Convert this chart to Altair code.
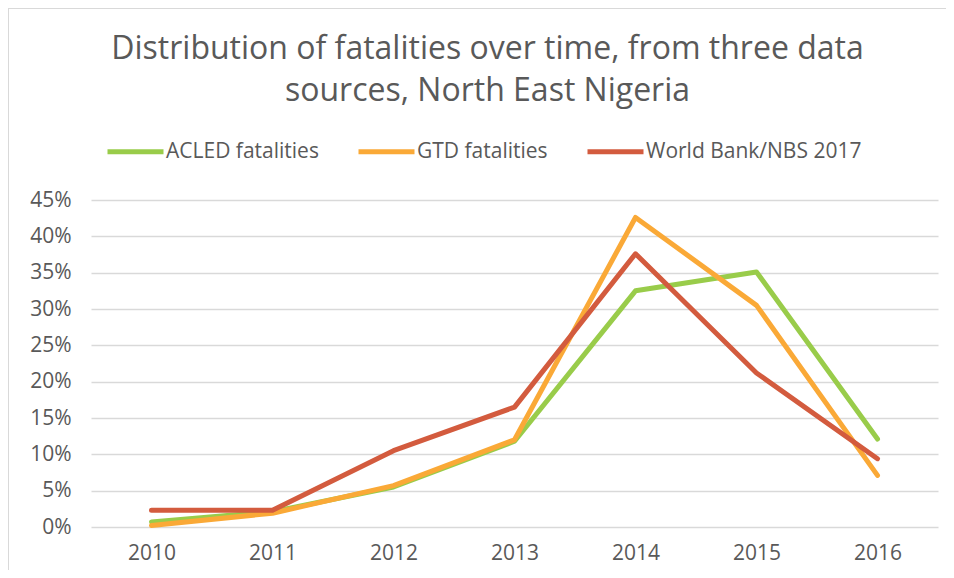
import altair as alt
import pandas as pd

years = ["2010", "2011", "2012", "2013", "2014", "2015", "2016"]
acled = [0.7, 2.1, 5.5, 11.8, 32.5, 35.1, 12.1]
gtd = [0.2, 1.9, 5.7, 12.0, 42.6, 30.5, 7.1]
world_bank = [2.3, 2.3, 10.5, 16.5, 37.6, 21.2, 9.4]
series_names = ["ACLED fatalities", "GTD fatalities", "World Bank/NBS 2017"]
series_colors = ["#99CC4A", "#FAA937", "#D35B3E"]
y_ticks = [0, 0.05, 0.10, 0.15, 0.20, 0.25, 0.30, 0.35, 0.40, 0.45]
title_lines = ["Distribution of fatalities over time, from three data",
               "sources, North East Nigeria"]

rows = []
for name, vals in zip(series_names, [acled, gtd, world_bank]):
    for yr, v in zip(years, vals):
        rows.append({"year": yr, "series": name, "share": v / 100.0})
df = pd.DataFrame(rows)

FONT = "Open Sans"
TXT = "#595959"
W, H = 847, 327

lines = alt.Chart(df).mark_line(strokeWidth=5, strokeCap="round", strokeJoin="round").encode(
    x=alt.X("year:O", sort=years, title=None,
            scale=alt.Scale(type="point", padding=0.5),
            axis=alt.Axis(labelAngle=0, domain=False, ticks=False, grid=False,
                          labelFont=FONT, labelFontSize=21, labelColor=TXT, labelPadding=15)),
    y=alt.Y("share:Q", title=None,
            scale=alt.Scale(domain=[0, 0.45], nice=False),
            axis=alt.Axis(values=y_ticks, format=".0%", domain=False, ticks=False,
                          grid=True, gridColor="#D9D9D9", gridWidth=1.5,
                          labelFont=FONT, labelFontSize=21, labelColor=TXT, labelPadding=20)),
    color=alt.Color("series:N", sort=series_names,
                    scale=alt.Scale(domain=series_names, range=series_colors),
                    legend=alt.Legend(title=None, orient="none", direction="horizontal",
                                      legendX=14, legendY=-79, padding=0, labelLimit=400,
                                      symbolType="stroke", symbolSize=3136, symbolStrokeWidth=5,
                                      labelFont=FONT, labelFontSize=21, labelColor=TXT,
                                      labelOffset=0, columnPadding=29)),
)

frame_data = alt.Data(values=[{"k": 1}])
left_edge = alt.Chart(frame_data).mark_rule(stroke="#D9D9D9", strokeWidth=2, clip=False).encode(
    x=alt.value(-83), y=alt.value(-192), y2=alt.value(H + 60),
)
top_edge = alt.Chart(frame_data).mark_rule(stroke="#D9D9D9", strokeWidth=2, clip=False).encode(
    x=alt.value(-84), x2=alt.value(W + 20), y=alt.value(-192),
)

chart = alt.layer(left_edge, top_edge, lines).properties(
    width=W, height=H,
    autosize=alt.AutoSizeParams(type="none"),
    padding={"left": 83, "top": 192, "right": 8, "bottom": 43},
    title=alt.TitleParams(text=title_lines, font=FONT, fontSize=32, fontWeight="normal",
                          color=TXT, anchor="middle", dx=-27, offset=0, dy=101, lineHeight=42),
).configure_view(stroke=None)

chart.save("out.html", embed_options={"renderer": "svg", "actions": False})
